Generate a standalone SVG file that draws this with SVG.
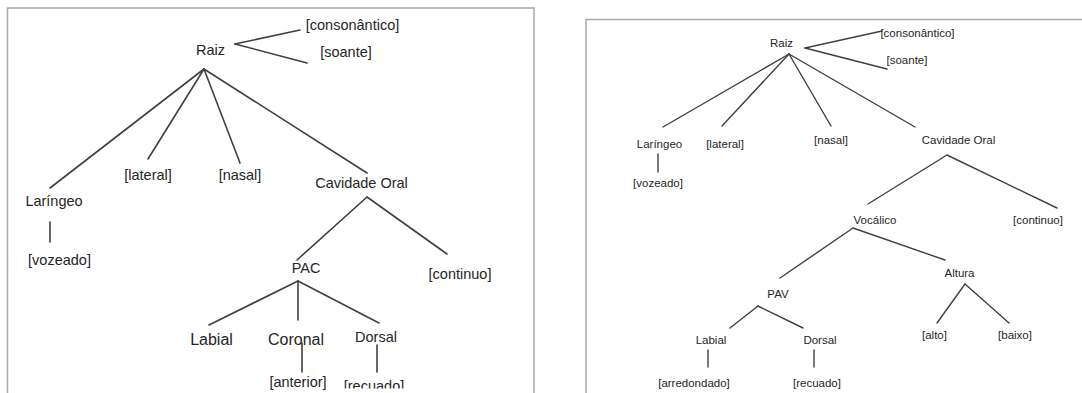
<svg xmlns="http://www.w3.org/2000/svg" width="1082" height="393" viewBox="0 0 1082 393">
<style>
text{font-family:"Liberation Sans",Arial,sans-serif;fill:#262626;text-anchor:middle}
.l text{font-size:14.5px}
.l .big{font-size:16px}
.r text{font-size:11.5px}
.frame{fill:none;stroke:#a8a8a8;stroke-width:1.5}
.cl line{stroke:#404040;stroke-width:1.6;stroke-linecap:round}
.cr line{stroke:#404040;stroke-width:1.4;stroke-linecap:round}
</style>
<defs>
<clipPath id="cut"><rect x="0" y="0" width="560" height="388.5"/></clipPath>
</defs>
<rect width="1082" height="393" fill="#fff"/>
<rect class="frame" x="7.5" y="8" width="526.5" height="400"/>
<rect class="frame" x="586" y="19.5" width="510" height="390"/>

<g id="connectors-left" class="cl">
<line x1="235" y1="44" x2="300" y2="30"/>
<line x1="235" y1="44" x2="307" y2="63"/>
<line x1="204" y1="69" x2="50" y2="188"/>
<line x1="204" y1="69" x2="148" y2="159"/>
<line x1="204" y1="69" x2="240" y2="163"/>
<line x1="204" y1="69" x2="367" y2="173"/>
<line x1="50" y1="222" x2="50" y2="242"/>
<line x1="367" y1="197" x2="297" y2="260"/>
<line x1="367" y1="197" x2="447" y2="254"/>
<line x1="298" y1="281" x2="209" y2="325"/>
<line x1="298" y1="281" x2="298" y2="320"/>
<line x1="298" y1="281" x2="379" y2="323"/>
<line x1="302" y1="343" x2="302" y2="372"/>
<line x1="377" y1="345" x2="377" y2="372"/>
</g>

<g class="l">
<g id="l-raiz"><text x="210.5" y="55">Raiz</text></g>
<g id="l-consonantico"><text x="352.5" y="30">[consonântico]</text></g>
<g id="l-soante"><text x="346" y="57">[soante]</text></g>
<g id="l-laringeo"><text x="54" y="206">Laríngeo</text></g>
<g id="l-lateral"><text x="148" y="180">[lateral]</text></g>
<g id="l-nasal"><text x="240" y="180">[nasal]</text></g>
<g id="l-cavidade"><text x="361.5" y="188">Cavidade Oral</text></g>
<g id="l-vozeado"><text x="59.5" y="265">[vozeado]</text></g>
<g id="l-pac"><text x="306" y="273">PAC</text></g>
<g id="l-continuo"><text x="460" y="279">[continuo]</text></g>
<g id="l-labial"><text class="big" x="211.5" y="345">Labial</text></g>
<g id="l-coronal"><text class="big" x="296" y="345">Coronal</text></g>
<g id="l-dorsal"><text x="376" y="342">Dorsal</text></g>
<g id="l-anterior"><text x="298" y="387">[anterior]</text></g>
<g id="l-recuado" clip-path="url(#cut)"><text x="374" y="391">[recuado]</text></g>
</g>

<g id="connectors-right" class="cr">
<line x1="805" y1="48" x2="882" y2="31"/>
<line x1="805" y1="48" x2="887" y2="69"/>
<line x1="789" y1="54" x2="663" y2="127"/>
<line x1="789" y1="54" x2="722" y2="126"/>
<line x1="789" y1="54" x2="831" y2="126"/>
<line x1="789" y1="54" x2="915" y2="127"/>
<line x1="658" y1="154" x2="658" y2="172"/>
<line x1="947" y1="155" x2="868" y2="204"/>
<line x1="947" y1="155" x2="1057" y2="208"/>
<line x1="853" y1="228" x2="780" y2="278"/>
<line x1="853" y1="228" x2="945" y2="260"/>
<line x1="758" y1="306" x2="730" y2="328"/>
<line x1="758" y1="306" x2="803" y2="328"/>
<line x1="965" y1="284" x2="937" y2="323"/>
<line x1="965" y1="284" x2="1009" y2="323"/>
<line x1="708" y1="350" x2="708" y2="367"/>
<line x1="814" y1="350" x2="814" y2="367"/>
</g>

<g class="r">
<g id="r-raiz"><text x="781.5" y="47">Raiz</text></g>
<g id="r-consonantico"><text x="917.5" y="37">[consonântico]</text></g>
<g id="r-soante"><text x="907" y="64">[soante]</text></g>
<g id="r-laringeo"><text x="659.5" y="148">Laríngeo</text></g>
<g id="r-lateral"><text x="725" y="148">[lateral]</text></g>
<g id="r-nasal"><text x="831" y="144">[nasal]</text></g>
<g id="r-cavidade"><text x="958.5" y="144">Cavidade Oral</text></g>
<g id="r-vozeado"><text x="658" y="187">[vozeado]</text></g>
<g id="r-vocalico"><text x="875" y="224">Vocálico</text></g>
<g id="r-continuo"><text x="1038" y="224">[continuo]</text></g>
<g id="r-pav"><text x="778" y="298">PAV</text></g>
<g id="r-altura"><text x="959.5" y="277">Altura</text></g>
<g id="r-labial"><text x="711" y="344">Labial</text></g>
<g id="r-dorsal"><text x="820" y="344">Dorsal</text></g>
<g id="r-alto"><text x="934.5" y="339">[alto]</text></g>
<g id="r-baixo"><text x="1015" y="339">[baixo]</text></g>
<g id="r-arredondado"><text x="694" y="387">[arredondado]</text></g>
<g id="r-recuado"><text x="817" y="387">[recuado]</text></g>
</g>
</svg>
